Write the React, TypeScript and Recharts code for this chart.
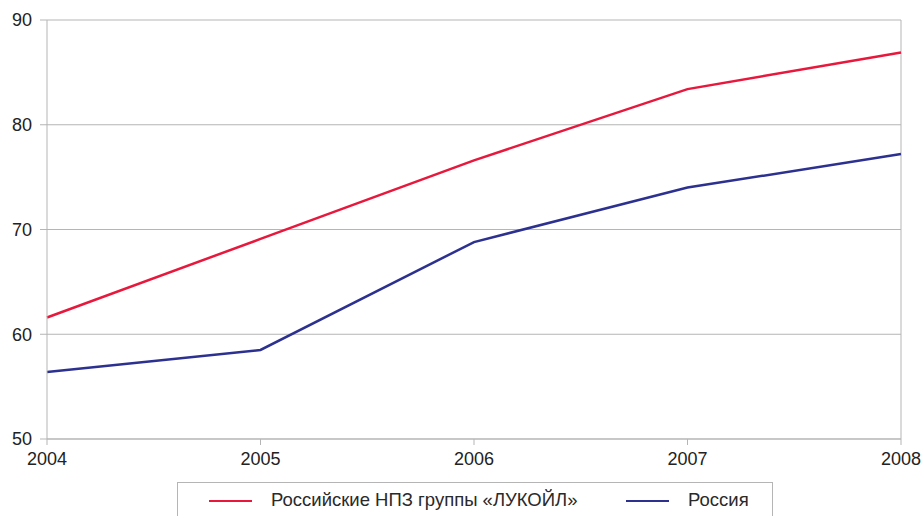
import { CartesianGrid, Legend, Line, LineChart, ReferenceLine, XAxis, YAxis } from 'recharts';

const years = ['2004', '2005', '2006', '2007', '2008'];
const lukoil = [61.6, 69.1, 76.6, 83.4, 86.9];
const russia = [56.4, 58.5, 68.8, 74.0, 77.2];
const yTicks = [50, 60, 70, 80, 90];

const RED = '#e8183c';
const BLUE = '#2c3190';
const GRID = '#b5b5b5';
const FONT = '"Liberation Sans", Arial, sans-serif';

const data = years.map((year, i) => ({ year, lukoil: lukoil[i], russia: russia[i] }));

function LegendBox() {
  return (
    <div
      style={{
        position: 'relative',
        width: 596,
        height: 40,
        border: `1px solid ${GRID}`,
        boxSizing: 'border-box',
        fontFamily: FONT,
        fontSize: 18.5,
        color: '#2a2a2a',
      }}
    >
      <div style={{ position: 'absolute', left: 31, top: 17, width: 43, height: 2, background: RED }} />
      <div style={{ position: 'absolute', left: 93, top: 6 }}>Российские НПЗ группы «ЛУКОЙЛ»</div>
      <div style={{ position: 'absolute', left: 448, top: 17, width: 43, height: 2, background: BLUE }} />
      <div style={{ position: 'absolute', left: 510, top: 6 }}>Россия</div>
    </div>
  );
}

export default function App() {
  return (
    <div style={{ position: 'absolute', left: 0, top: 0, background: '#fff' }}>
      <LineChart width={921} height={516} data={data} margin={{ top: 20, right: 20, left: 0, bottom: 47 }}>
        <CartesianGrid vertical={false} stroke={GRID} />
        <ReferenceLine x="2008" stroke={GRID} />
        <XAxis
          dataKey="year"
          height={30}
          stroke={GRID}
          tickSize={6}
          tickMargin={7}
          interval={0}
          tick={{ fill: '#222', fontSize: 18, fontFamily: FONT }}
        />
        <YAxis
          width={47}
          domain={[50, 90]}
          ticks={yTicks}
          stroke={GRID}
          tickSize={7}
          tickMargin={8}
          tick={{ fill: '#222', fontSize: 18, fontFamily: FONT }}
        />
        <Legend
          verticalAlign="middle"
          align="center"
          layout="horizontal"
          wrapperStyle={{ left: 177, top: 482, width: 596 }}
          content={() => <LegendBox />}
        />
        <Line dataKey="lukoil" stroke={RED} strokeWidth={2.5} dot={false} isAnimationActive={false} />
        <Line dataKey="russia" stroke={BLUE} strokeWidth={2.5} dot={false} isAnimationActive={false} />
      </LineChart>
    </div>
  );
}
